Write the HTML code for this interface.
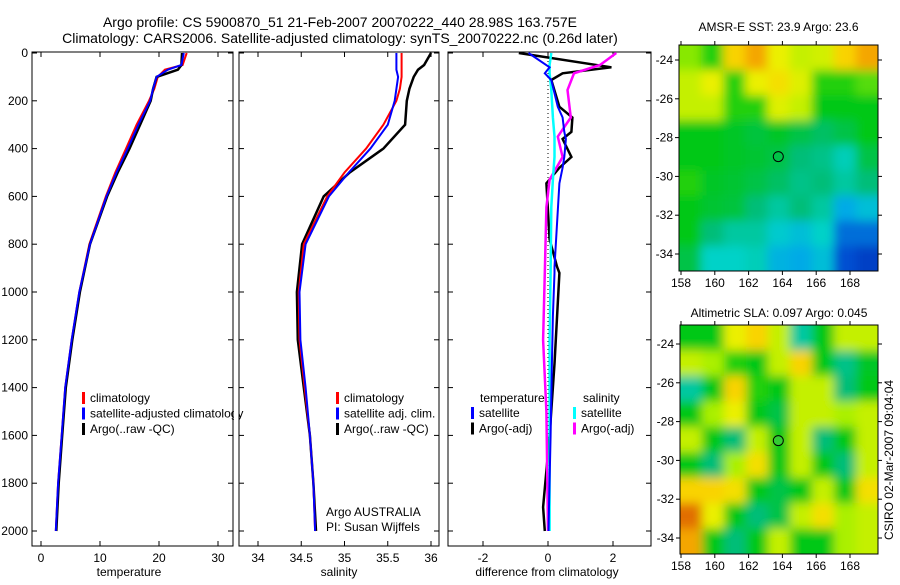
<!DOCTYPE html>
<html><head><meta charset="utf-8"><style>
body{margin:0;background:#fff;width:900px;height:580px;overflow:hidden}
svg text{font-family:"Liberation Sans",sans-serif;fill:#000}
</style></head><body>
<svg id="fig" width="900" height="580" xmlns="http://www.w3.org/2000/svg">
<defs><filter id="bl" x="0" y="0" width="100%" height="100%"><feGaussianBlur stdDeviation="5"/></filter>
<clipPath id="c1"><rect x="679" y="45" width="199" height="226"/></clipPath>
<clipPath id="c2"><rect x="680" y="325" width="198" height="229"/></clipPath></defs>
<text x="340" y="27" font-size="14" text-anchor="middle">Argo profile: CS 5900870_51 21-Feb-2007 20070222_440 28.98S 163.757E</text>
<text x="340" y="43" font-size="14" text-anchor="middle">Climatology: CARS2006. Satellite-adjusted climatology: synTS_20070222.nc (0.26d later)</text>
<g id="g"></g>
</svg>
<script>
// ---- data ----
const depths=[0,50,70,100,150,200,300,400,500,600,800,1000,1200,1400,1600,1800,2000];
const tempArgo=[23.9,23.8,23.2,19.6,19.0,18.6,16.8,15.0,13.0,11.2,8.3,6.6,5.3,4.2,3.6,3.0,2.6];
const tempClim=[24.7,24.0,21.0,19.8,19.2,18.3,16.2,14.4,12.6,11.0,8.2,6.5,5.2,4.1,3.5,2.9,2.5];
const tempSat=[24.2,23.8,21.5,19.6,19.0,18.5,16.5,14.7,12.8,11.1,8.3,6.5,5.2,4.1,3.5,2.9,2.5];
const salArgo=[36.0,35.92,35.85,35.8,35.75,35.72,35.7,35.45,35.06,34.76,34.51,34.45,34.46,34.53,34.6,34.64,34.67];
const salClim=[35.66,35.66,35.66,35.66,35.64,35.6,35.45,35.25,35.0,34.8,34.53,34.47,34.48,34.54,34.6,34.64,34.66];
const salSat=[35.6,35.6,35.6,35.62,35.6,35.58,35.5,35.3,35.05,34.82,34.55,34.48,34.49,34.55,34.6,34.64,34.66];
const dDepthT=[0,60,85,113,225,270,330,360,435,480,545,780,895,920,1100,1300,1600,1900,2000];
const dTempArgo=[-0.9,1.95,0.45,0.1,0.35,0.75,0.72,0.45,0.72,0.35,-0.05,0.05,0.28,0.35,0.28,0.2,0.05,-0.15,-0.1];
const dTempSat=[-0.6,0.05,-0.1,0.1,0.3,0.45,0.5,0.55,0.5,0.45,0.35,0.25,0.2,0.2,0.15,0.12,0.08,0.03,0.02];
const dDepthS=[0,50,85,155,270,350,435,530,645,920,1200,1500,2000];
const dSalArgo=[2.1,1.6,0.8,0.6,0.7,0.3,0.45,0.05,-0.05,-0.1,-0.15,-0.05,0.0];
const dSalSat=[0.1,0.05,0.05,0.1,0.15,0.2,0.2,0.15,0.1,0.08,0.05,0.05,0.05];
const sstGrid=[[.68,.62,.8,.85,.75,.72,.73,.8,.85],[.72,.75,.62,.75,.78,.74,.62,.62,.65],[.72,.72,.62,.62,.74,.72,.6,.6,.6],[.6,.6,.58,.56,.58,.55,.52,.55,.6],[.6,.6,.58,.57,.55,.5,.48,.42,.55],[.62,.58,.57,.55,.52,.48,.5,.45,.5],[.6,.57,.56,.5,.45,.5,.45,.3,.35],[.6,.5,.45,.45,.38,.35,.4,.2,.2],[.55,.4,.4,.42,.32,.3,.35,.15,.1]];
const slaGrid=[[.6,.6,.75,.8,.72,.45,.6,.72,.72],[.72,.7,.62,.6,.72,.8,.6,.48,.58],[.45,.6,.8,.62,.6,.72,.72,.5,.6],[.6,.7,.75,.6,.55,.72,.72,.7,.72],[.72,.6,.5,.72,.6,.72,.5,.6,.72],[.6,.5,.7,.78,.6,.72,.6,.5,.72],[.8,.8,.78,.6,.55,.6,.72,.6,.78],[.9,.75,.6,.5,.55,.72,.78,.7,.72],[.85,.6,.5,.6,.72,.6,.6,.7,.72]];
const depthTicks=[0,200,400,600,800,1000,1200,1400,1600,1800,2000];
const tempTicks=[0,10,20,30];
const salTicks=[34,34.5,35,35.5,36];
const diffTicks=[-2,0,2];
const lonTicks=[158,160,162,164,166,168];
const latTicks=[-24,-26,-28,-30,-32,-34];
// ---- scales ----
const Y=d=>53+d*0.239;
const XT=t=>41+t*5.9;
const XS=s=>258+(s-34)*86.5;
const XD=v=>548+v*32.5;
const g=document.getElementById('g');
const NS='http://www.w3.org/2000/svg';
function mk(tag,at,parent){const e=document.createElementNS(NS,tag);for(const k in at)e.setAttribute(k,at[k]);(parent||g).appendChild(e);return e;}
function txt(x,y,s,sz,anchor){const e=mk('text',{x:x,y:y,'font-size':sz,'text-anchor':anchor||'middle'});e.textContent=s;return e;}
function line(xs,ds,X,col,w,name){const p=xs.map((v,i)=>X(v).toFixed(1)+','+Y(ds[i]).toFixed(1)).join(' ');const e=mk('polyline',{points:p,fill:'none',stroke:col,'stroke-width':w});

return e;}
function frame(x,y,w,h,name){const e=mk('rect',{x:x,y:y,width:w,height:h,fill:'none',stroke:'#000','stroke-width':1});

}
function xticks(vals,X,top,bot,name,lblY){vals.forEach(v=>{const x=X(v);mk('line',{x1:x,x2:x,y1:bot,y2:bot-5,stroke:'#000'});mk('line',{x1:x,x2:x,y1:top,y2:top+5,stroke:'#000'});const t=txt(x,lblY,String(v),12);

});}
function yticks(vals,Yf,l,r,lbl){vals.forEach(v=>{const y=Yf(v);mk('line',{x1:l,x2:l+5,y1:y,y2:y,stroke:'#000'});mk('line',{x1:r,x2:r-5,y1:y,y2:y,stroke:'#000'});if(lbl){const t=txt(lbl.x,y+4,String(v),12,lbl.a);

}});}
function legend(x,y,items,name){items.forEach((it,i)=>{const yy=y+i*15.5;mk('rect',{x:x,y:yy-10,width:3,height:12,fill:it[1]});const t=txt(x+8,yy,it[0],12,'start');

});}
// panel 1 temperature
frame(32,52,201,494,'temperature-axes');
xticks(tempTicks,XT,52,546,'temperature',562);
yticks(depthTicks,Y,32,233,{x:28,a:'end',n:'depth-tick-label'});
line(tempClim,depths,XT,'#f00',2,'temp-climatology-line');
line(tempArgo,depths,XT,'#000',2.5,'temp-argo-line');
line(tempSat,depths,XT,'#00f',2,'temp-satellite-line');
let t=txt(129,576,'temperature',12);


legend(82,402,[['climatology','#f00'],['satellite-adjusted climatology','#00f'],['Argo(..raw -QC)','#000']],'temp-legend');
mk('rect',{x:234,y:380,width:5,height:50,fill:'#fff'});
// panel 2 salinity
frame(239,52,200,494,'salinity-axes');
xticks(salTicks,XS,52,546,'salinity',562);
yticks(depthTicks,Y,239,439,null);
line(salArgo,depths,XS,'#000',2.5,'sal-argo-line');
line(salClim,depths,XS,'#f00',2,'sal-climatology-line');
line(salSat,depths,XS,'#00f',2,'sal-satellite-line');
t=txt(339,576,'salinity',12);


legend(336,402,[['climatology','#f00'],['satellite adj. clim.','#00f'],['Argo(..raw -QC)','#000']],'sal-legend');
t=txt(326,516,'Argo AUSTRALIA',12,'start');


t=txt(326,531,'PI: Susan Wijffels',12,'start');


// panel 3 differences
frame(448,52,203,494,'difference-axes');
xticks(diffTicks,XD,52,546,'difference',562);
yticks(depthTicks,Y,448,651,null);
mk('line',{x1:XD(0),x2:XD(0),y1:53,y2:531,stroke:'#000','stroke-dasharray':'1,3'});
line(dTempArgo,dDepthT,XD,'#000',2.5,'diff-temp-argo-line');
line(dSalArgo,dDepthS,XD,'#f0f',2.5,'diff-sal-argo-line');
line(dSalSat,dDepthS,XD,'#0ff',2.5,'diff-sal-satellite-line');
line(dTempSat,dDepthT,XD,'#00f',2,'diff-temp-satellite-line');
t=txt(547,576,'difference from climatology',12);


t=txt(480,402,'temperature',12,'start');


t=txt(583,402,'salinity',12,'start');


legend(471,417,[['satellite','#00f'],['Argo(-adj)','#000']],'diff-legend-temp');
legend(573,417,[['satellite','#0ff'],['Argo(-adj)','#f0f']],'diff-legend-sal');
// maps
const stops=[[0,[0,30,170]],[0.15,[0,80,210]],[0.3,[0,170,230]],[0.4,[0,210,200]],[0.5,[0,190,120]],[0.6,[0,200,20]],[0.7,[170,240,0]],[0.75,[235,240,0]],[0.82,[255,200,0]],[0.9,[225,110,0]],[1,[180,40,0]]];
function jet(v){v=Math.max(0,Math.min(1,v));for(let i=1;i<stops.length;i++){if(v<=stops[i][0]){const a=stops[i-1],b=stops[i],f=(v-a[0])/(b[0]-a[0]);const c=a[1].map((x,k)=>Math.round(x+(b[1][k]-x)*f));return 'rgb('+c.join(',')+')';}}return 'rgb(180,40,0)';}
function map(grid,x0,y0,w,h,clip,name,latY,lonX,title,ty,circ){
 const grp=mk('g',{'clip-path':'url(#'+clip+')'});
 
 
 const inner=mk('g',{filter:'url(#bl)'},grp);
 const rows=grid.length,cols=grid[0].length,cw=w/cols,ch=h/rows;
 mk('rect',{x:x0-20,y:y0-20,width:w+40,height:h+40,fill:jet(grid[0][0])},inner);
 grid.forEach((row,i)=>row.forEach((v,j)=>{const c=mk('rect',{x:x0+j*cw-(j==0?20:0),y:y0+i*ch-(i==0?20:0),width:cw+1+(j==0||j==cols-1?20:0),height:ch+1+(i==0||i==rows-1?20:0),fill:jet(v)},inner);
 
 }));
 frame(x0,y0,w,h,name+'-frame');
 lonTicks.forEach(v=>{const x=lonX(v);mk('line',{x1:x,x2:x,y1:y0+h,y2:y0+h+4,stroke:'#000'});mk('line',{x1:x,x2:x,y1:y0,y2:y0-4,stroke:'#000'});const l=txt(x,y0+h+16,String(v),12);
 
 });
 latTicks.forEach(v=>{const y=latY(v);mk('line',{x1:x0,x2:x0-4,y1:y,y2:y,stroke:'#000'});mk('line',{x1:x0+w,x2:x0+w+4,y1:y,y2:y,stroke:'#000'});const l=txt(x0-6,y+4,String(v),12,'end');
 
 });
 const c=mk('circle',{cx:lonX(163.757),cy:latY(-28.98),r:5,fill:circ,stroke:'#000'});
 
 
 const tt=txt(x0+w/2,ty,title,12);
 
 
}
map(sstGrid,679,45,199,226,'c1','sst-map',v=>60+(-24-v)*19.4,v=>681+(v-158)*16.9,'AMSR-E SST: 23.9  Argo: 23.6',31,'none');
map(slaGrid,680,325,198,229,'c2','sla-map',v=>344+(-24-v)*19.4,v=>681+(v-158)*16.9,'Altimetric SLA: 0.097  Argo: 0.045',317,'#3c3');
t=mk('text',{x:0,y:0,'font-size':12,'text-anchor':'middle',transform:'translate(893,460) rotate(-90)'});
t.textContent='CSIRO 02-Mar-2007 09:04:04';


</script>
</body></html>
